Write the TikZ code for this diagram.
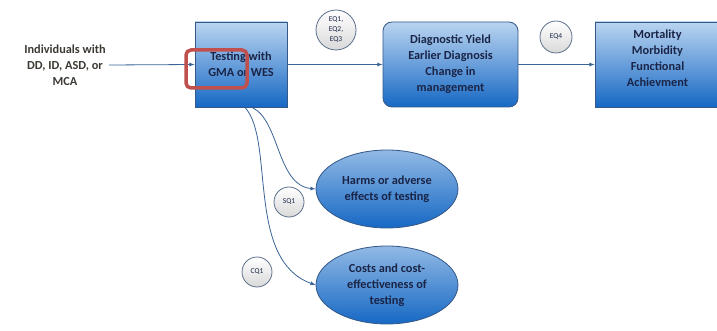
\documentclass[tikz,border=0pt]{standalone}
\usepackage{fontspec}
\setmainfont{Carlito}
\usetikzlibrary{shapes.geometric}

\definecolor{boxtop}{RGB}{186,212,240}
\definecolor{boxbot}{RGB}{22,104,196}
\definecolor{boxline}{RGB}{52,88,136}
\definecolor{navy}{RGB}{26,36,70}
\definecolor{flow}{RGB}{58,100,150}
\definecolor{qline}{RGB}{92,112,140}
\definecolor{hilite}{RGB}{192,80,77}

\tikzset{
  box/.style={draw=boxline,thick,top color=boxtop,bottom color=boxbot,
    minimum height=85pt,align=center,text=navy,
    font=\bfseries\fontsize{12.3}{16}\selectfont},
  oval/.style={ellipse,draw=boxline,thick,top color=boxtop!75!boxbot,bottom color=boxbot,
    minimum width=142pt,minimum height=78pt,inner sep=0pt,align=center,text=navy,
    font=\bfseries\fontsize{12.3}{16}\selectfont},
  qmark/.style={circle,draw=qline,thick,top color=white,bottom color=black!15,
    inner sep=0pt,align=center,text=navy,font=\fontsize{7.5}{10}\selectfont},
  flowline/.style={draw=flow,thick,-latex},
}

\begin{document}
\begin{tikzpicture}[x=1pt,y=-1pt]
\useasboundingbox (0,0) rectangle (717,331);
\clip (0,0) rectangle (717,331);
\fill[white] (0,0) rectangle (717,331);

% population and the three boxes along the top
\node[align=center,text=black!80!yellow!60!black,font=\bfseries\fontsize{12.3}{16}\selectfont]
  (pop) at (65,65) {Individuals with\\DD, ID, ASD, or\\MCA};
\node[box,minimum width=92pt] (test) at (241,64.5) {Testing with\\GMA or WES};
\node[box,rounded corners=9pt,minimum width=135pt] (yield) at (450.5,64.5)
  {Diagnostic Yield\\Earlier Diagnosis\\Change in\\management};
\node[box,minimum width=125pt] (outc) at (657.5,64.5) {};
\node[anchor=north,align=center,text=navy,font=\bfseries\fontsize{12.3}{16}\selectfont]
  (outctxt) at ([yshift=-5pt]outc.north) {Mortality\\Morbidity\\Functional\\Achievment};

% side outcomes
\node[oval] (harms) at (387,189) {Harms or adverse\\effects of testing};
\node[oval] (costs) at (387,285) {Costs and cost-\\effectiveness of\\testing};

% key question markers
\node[qmark,minimum size=40pt] (eq1) at (336,30) {EQ1,\\EQ2,\\EQ3};
\node[qmark,minimum size=32pt] (eq4) at (556,37) {EQ4};
\node[qmark,minimum size=30pt] (sq1) at (289,202) {SQ1};
\node[qmark,minimum size=30pt] (cq1) at (257,272) {CQ1};

% connectors
\draw[flowline] (pop.east) -- (test.west);
\draw[flowline] (test.east) -- (yield.west);
\draw[flowline] (yield.east) -- (outc.west);
\draw[flowline] ([xshift=11pt]test.south) .. controls +(28,13) and +(-39,-4) .. (harms.west);
\draw[flowline] ([xshift=4pt]test.south) .. controls +(30,33) and +(-70,-25) .. (costs.west);

% highlight
\draw[hilite,line width=3.5pt,rounded corners=5pt] (186,50) rectangle (247,88);
\end{tikzpicture}
\end{document}
